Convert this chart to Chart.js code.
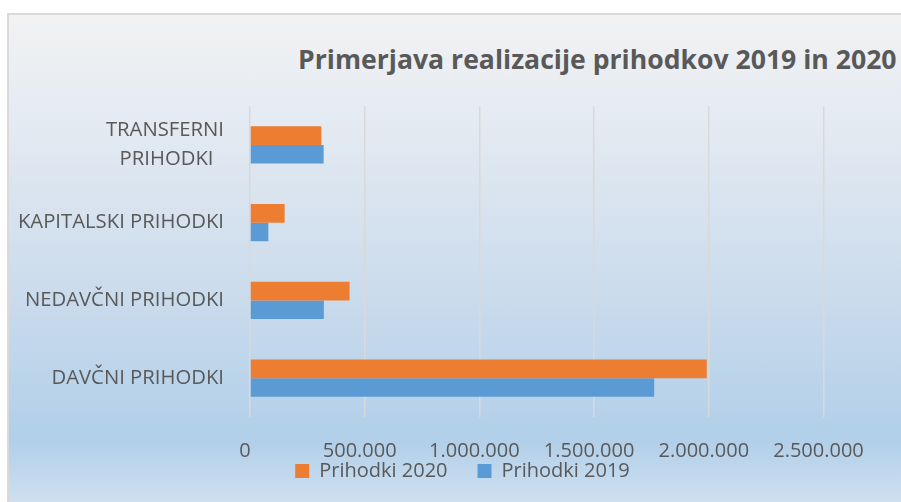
<!DOCTYPE html>
<html lang="sl">
<head>
<meta charset="UTF-8">
<title>Primerjava realizacije prihodkov 2019 in 2020</title>
<script src="https://cdn.jsdelivr.net/npm/chart.js"></script>
<style>
  body { margin: 0; background: #fff; overflow: hidden; }
  #frame {
    position: absolute; left: 7px; top: 13px; width: 900px; height: 495px;
    border-left: 2px solid #d9d9d9; border-top: 2px solid #d9d9d9;
    background: linear-gradient(to bottom, #f2f2f2 0px, #e5ebf2 100px, #ccdcec 270px, #b1cfe9 425px, #cfe0f0 489px);
  }
  #title {
    position: absolute; left: 298px; top: 41px; white-space: nowrap;
    font: bold 26.6px 'Open Sans', sans-serif; color: #595959;
  }
  canvas { position: absolute; left: 0; top: 0; }
</style>
</head>
<body>
<div id="frame"></div>
<div id="title">Primerjava realizacije prihodkov 2019 in 2020</div>
<!-- canvas runs a little past the right edge, the picture is cut there -->
<canvas id="chart" width="920" height="502"></canvas>

<script>
  // categories top to bottom
  var categories = [['TRANSFERNI', 'PRIHODKI\u00a0\u00a0'], 'KAPITALSKI PRIHODKI', 'NEDAVČNI PRIHODKI', 'DAVČNI PRIHODKI'];
  var prihodki2020 = [311000, 151000, 434000, 1991000];
  var prihodki2019 = [321000, 80000, 322000, 1762000];
  var xMin = 0, xMax = 2500000, xStep = 500000;

  var textColor = '#595959';
  var fontFamily = "'Open Sans', sans-serif";

  function formatNum(v) {
    return String(v).replace(/\B(?=(\d{3})+(?!\d))/g, '.');
  }

  var ctx = document.getElementById('chart').getContext('2d');
  new Chart(ctx, {
    type: 'bar',
    data: {
      labels: categories,
      datasets: [{
        label: 'Prihodki 2020',
        data: prihodki2020,
        backgroundColor: '#ED7D31',
        barPercentage: 1,
        categoryPercentage: 0.476
      }, {
        label: 'Prihodki 2019',
        data: prihodki2019,
        backgroundColor: '#5B9BD5',
        barPercentage: 1,
        categoryPercentage: 0.476
      }]
    },
    options: {
      indexAxis: 'y',
      responsive: false,
      animation: false,
      devicePixelRatio: 1,
      layout: { padding: { left: 5, right: 0, top: 106, bottom: 11 } },
      scales: {
        x: {
          min: xMin,
          max: xMax,
          ticks: {
            stepSize: xStep,
            callback: function (v) { return formatNum(v); },
            color: textColor,
            font: { family: fontFamily, size: 20 },
            // mirrored with negative padding so the labels can sit under the
            // axis box without being clipped, legend goes up close to them
            mirror: true,
            padding: -46,
            labelOffset: -5,
            maxRotation: 0
          },
          grid: { color: '#d9d9d9', lineWidth: 1.5, drawTicks: false },
          border: { display: false },
          afterFit: function (s) { s.height = 14; }
        },
        y: {
          ticks: {
            color: textColor,
            font: { family: fontFamily, size: 20.3, lineHeight: 1.4 },
            padding: 26
          },
          grid: { display: false, drawTicks: false },
          border: { display: false },
          afterFit: function (s) { s.width = 245; }
        },
        // empty axis on the right, keeps the plot ending at 2.500.000
        pad: {
          type: 'linear',
          position: 'right',
          ticks: { display: false },
          grid: { display: false, drawTicks: false },
          border: { display: false },
          afterFit: function (s) { s.width = 96.5; }
        }
      },
      plugins: {
        legend: {
          position: 'bottom',
          labels: {
            boxWidth: 14,
            boxHeight: 14,
            padding: 30,
            color: textColor,
            font: { family: fontFamily, size: 20 }
          }
        },
        tooltip: { enabled: false }
      }
    }
  });
</script>
</body>
</html>
